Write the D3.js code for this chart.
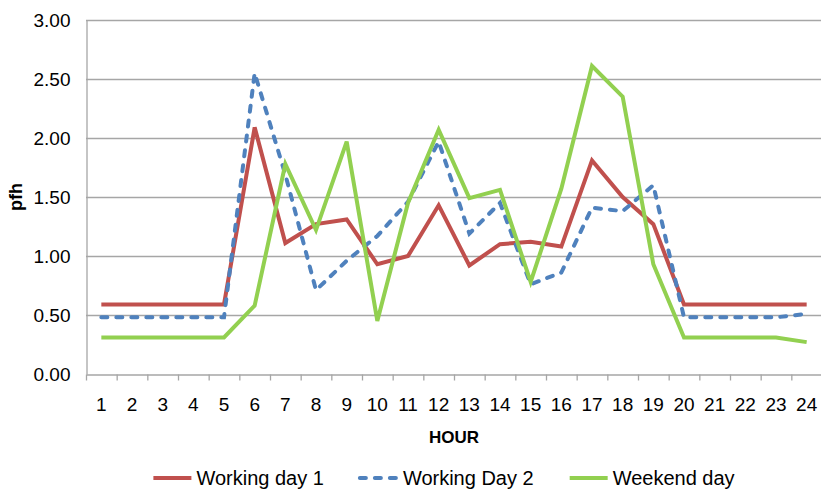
<!DOCTYPE html>
<html>
<head>
<meta charset="utf-8">
<script src="https://cdn.jsdelivr.net/npm/d3@7"></script>
<style>
  html, body { margin: 0; padding: 0; background: #fff; }
  svg { display: block; }
  text { font-family: "Liberation Sans", Arial, sans-serif; fill: #000; }
</style>
</head>
<body>
<svg id="chart" width="821" height="489"></svg>
<script>
const hours = ["1","2","3","4","5","6","7","8","9","10","11","12","13","14","15","16","17","18","19","20","21","22","23","24"];
const workingDay1 = [0.59,0.59,0.59,0.59,0.59,2.09,1.11,1.27,1.31,0.93,1.00,1.43,0.92,1.10,1.12,1.08,1.81,1.50,1.27,0.59,0.59,0.59,0.59,0.59];
const workingDay2 = [0.48,0.48,0.48,0.48,0.48,2.55,1.69,0.71,0.96,1.17,1.46,1.97,1.19,1.45,0.76,0.86,1.41,1.38,1.60,0.48,0.48,0.48,0.48,0.51];
const weekendDay  = [0.31,0.31,0.31,0.31,0.31,0.58,1.78,1.22,1.97,0.45,1.45,2.07,1.49,1.56,0.78,1.57,2.61,2.35,0.93,0.31,0.31,0.31,0.31,0.27];
const yTicks = [0, 0.5, 1.0, 1.5, 2.0, 2.5, 3.0];
const seriesNames = ["Working day 1", "Working Day 2", "Weekend day"];
const seriesColors = ["#C0504D", "#4F81BD", "#92D050"];
const seriesDash = [null, "6,9", null];
const xTitle = "HOUR";
const yTitle = "pfh";

(function () {
const series = [workingDay1, workingDay2, weekendDay].map((vals, i) => ({
  name: seriesNames[i], color: seriesColors[i], dash: seriesDash[i], values: vals
}));

const svg = d3.select("#chart");
const mLeft = 86, mRight = 822, mTop = 20, mBottom = 374;

const x = d3.scaleBand().domain(hours).range([mLeft, mRight]).paddingInner(0).paddingOuter(0);
const xEdge = d3.scaleLinear().domain([0, hours.length]).range([mLeft, mRight]);
const y = d3.scaleLinear().domain([0, 3]).range([mBottom, mTop]);

// gridlines
svg.append("g").selectAll("line").data(yTicks.filter(t => t > 0)).join("line")
  .attr("x1", mLeft).attr("x2", mRight)
  .attr("y1", d => Math.round(y(d)) + 0.5).attr("y2", d => Math.round(y(d)) + 0.5)
  .attr("stroke", "#A6A6A6").attr("stroke-width", 1.3);

// y axis
const yAxis = svg.append("g").attr("transform", `translate(${mLeft + 0.5},0)`)
  .call(d3.axisLeft(y).tickValues(yTicks).tickFormat(d3.format(".2f")).tickSize(0).tickPadding(16));
yAxis.select(".domain").attr("stroke", "#A6A6A6").attr("stroke-width", 1.3);
yAxis.selectAll("text").style("font-size", "19px").attr("fill", "#000");

// x axis tick marks at category boundaries
const xTickAxis = svg.append("g").attr("transform", `translate(0,${mBottom + 0.5})`)
  .call(d3.axisBottom(xEdge).tickValues(d3.range(0, hours.length + 1)).tickFormat("").tickSizeInner(6).tickSizeOuter(0));
xTickAxis.select(".domain").attr("stroke", "#A6A6A6").attr("stroke-width", 1.3);
xTickAxis.selectAll("line").attr("stroke", "#A6A6A6").attr("stroke-width", 1.3);

// x axis labels at centers
const xLab = svg.append("g").attr("transform", `translate(0,${mBottom})`)
  .call(d3.axisBottom(x).tickSize(0).tickPadding(24));
xLab.select(".domain").remove();
xLab.selectAll("text").style("font-size", "19px").attr("fill", "#000");

// lines
const line = d3.line().x((d, i) => x(hours[i]) + x.bandwidth() / 2).y(d => y(d));
svg.append("g").selectAll("path").data(series).join("path")
  .attr("d", d => line(d.values))
  .attr("fill", "none")
  .attr("stroke", d => d.color)
  .attr("stroke-width", 4)
  .attr("stroke-linejoin", "miter")
  .attr("stroke-linecap", d => d.dash ? "round" : "butt")
  .attr("stroke-dasharray", d => d.dash);

// axis titles
svg.append("text").attr("x", (mLeft + mRight) / 2).attr("y", 443)
  .attr("text-anchor", "middle").style("font-size", "17px").style("font-weight", "bold").text(xTitle);
svg.append("text").attr("transform", `translate(22,${(mTop + mBottom) / 2}) rotate(-90)`)
  .attr("text-anchor", "middle").style("font-size", "18px").style("font-weight", "bold").text(yTitle);

// legend
const legend = svg.append("g");
const swatchW = 38, swGap = 5, itemGap = 36, legY = 478;
const items = [];
series.forEach(s => {
  const g = legend.append("g");
  g.append("line").attr("x1", 0).attr("x2", swatchW).attr("y1", 0).attr("y2", 0)
    .attr("stroke", s.color).attr("stroke-width", 4)
    .attr("stroke-linecap", s.dash ? "round" : "butt")
    .attr("stroke-dasharray", s.dash);
  const t = g.append("text").attr("x", swatchW + swGap).attr("y", 0).attr("dy", "0.35em")
    .style("font-size", "20px").text(s.name);
  const w = swatchW + swGap + t.node().getComputedTextLength();
  items.push({ g, w });
});
const total = d3.sum(items, d => d.w) + itemGap * (items.length - 1);
let cx = 444 - total / 2;
items.forEach(it => {
  it.g.attr("transform", `translate(${cx},${legY})`);
  cx += it.w + itemGap;
});
})();
</script>
</body>
</html>
